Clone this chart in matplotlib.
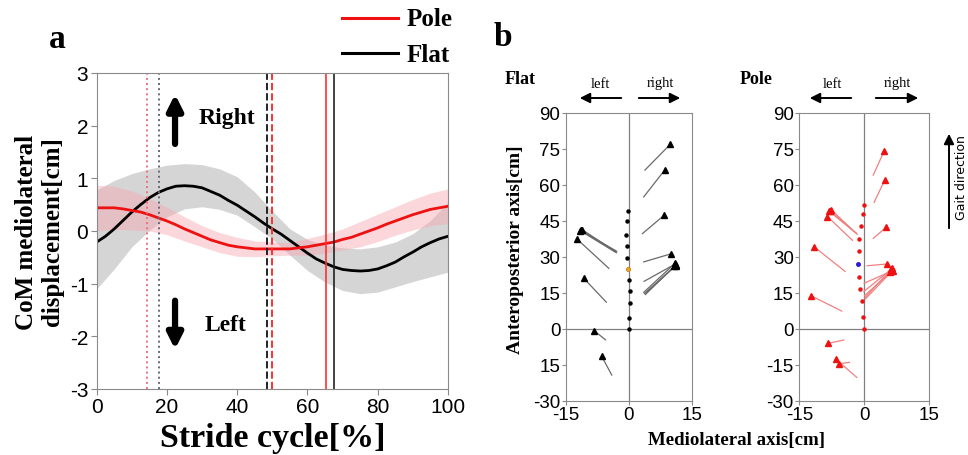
import numpy as np
import matplotlib
matplotlib.use('Agg')
import matplotlib.pyplot as plt

plt.rcParams['axes.unicode_minus'] = False

# ---- panel a: CoM mediolateral displacement over the stride cycle
stride = np.arange(0, 100.1, 2.5)
flat_mean = [-0.21, -0.1, 0.04, 0.2, 0.36, 0.5, 0.63, 0.73, 0.8, 0.85, 0.86,
             0.85, 0.82, 0.75, 0.68, 0.58, 0.49, 0.38, 0.27, 0.15, 0.04,
             -0.06, -0.18, -0.3, -0.42, -0.53, -0.61, -0.68, -0.73, -0.75, -0.76,
             -0.75, -0.72, -0.66, -0.59, -0.49, -0.4, -0.3, -0.22, -0.15, -0.1]
pole_mean = [0.44, 0.44, 0.44, 0.42, 0.39, 0.36, 0.31, 0.25, 0.19, 0.12, 0.04,
             -0.03, -0.1, -0.17, -0.22, -0.27, -0.3, -0.32, -0.34, -0.34, -0.34,
             -0.34, -0.34, -0.32, -0.3, -0.27, -0.24, -0.21, -0.16, -0.12, -0.06,
             0.0, 0.06, 0.13, 0.19, 0.25, 0.31, 0.36, 0.41, 0.44, 0.47]

band_x = np.arange(0, 101, 5)
flat_upper = [0.78, 0.96, 1.09, 1.18, 1.25, 1.28, 1.26, 1.18, 1.03, 0.74, 0.38,
              0.04, -0.16, -0.27, -0.32, -0.34, -0.3, -0.21, -0.05, 0.2, 0.55]
flat_lower = [-1.1, -0.72, -0.3, 0.01, 0.27, 0.42, 0.46, 0.41, 0.3, 0.08, -0.15,
              -0.46, -0.75, -0.97, -1.13, -1.19, -1.16, -1.06, -0.96, -0.87, -0.78]
pole_sd = [0.43, 0.41, 0.37, 0.31, 0.26, 0.23, 0.2, 0.19, 0.18, 0.15, 0.13,
           0.12, 0.16, 0.18, 0.2, 0.24, 0.26, 0.27, 0.29, 0.31, 0.33]

pole_events = [14.2, 49.9, 65.4]
flat_events = [17.8, 48.4, 67.6]

# ---- panel b: CoM path (dots) and foot placements (triangles)
flat_com_x = [0, 0.1, 0.25, 0.2, 0, -0.2, -0.4, -0.55, -0.6, -0.45, -0.25]
flat_com_y = [0, 4.6, 10.6, 15.6, 20.5, 25.1, 29.7, 34.4, 39.3, 44.8, 49.3]
flat_start_x = [3.8, 3.5, 3.2, 3.5, 3.6, 3.5, 3.7, 3.9, 4.0,
                -3.2, -3.0, -3.4, -2.9, -4.8, -5.4, -5.6, -4.1]
flat_start_y = [66.2, 55.0, 39.7, 27.9, 19.8, 15.2, 14.7, 14.3, 15.0,
                32.1, 31.7, 32.4, 32.3, 25.2, 11.1, -4.6, -19.3]
flat_foot_x = [9.8, 8.5, 8.4, 9.9, 10.9, 11.0, 11.2, 10.8, 11.1,
               -11.4, -11.6, -11.2, -11.5, -12.3, -10.8, -8.3, -6.5]
flat_foot_y = [76.9, 66.2, 47.4, 31.2, 26.9, 27.4, 26.6, 26.0, 26.2,
               41.2, 40.9, 41.4, 41.0, 37.3, 21.1, -0.8, -11.5]

pole_com_x = [0, -0.24, -0.56, -0.96, -1.3, -1.35, -1.3, -1.1, -0.7, -0.3, 0]
pole_com_y = [0, 4.9, 11.4, 16.7, 21.7, 27.0, 32.3, 37.6, 42.8, 47.8, 51.8]
pole_start_x = [2.1, 2.3, 2.1, 0.7, 0.0, -0.1, 0.1, 0.2, 0.3,
                -1.8, -1.6, -2.0, -2.7, -4.4, -5.2, -4.7, -3.4, -1.7]
pole_start_y = [64.1, 52.7, 37.7, 26.3, 19.0, 15.5, 13.8, 13.0, 12.5,
                39.8, 39.4, 40.1, 36.9, 23.9, 7.4, -4.7, -14.0, -20.3]
pole_foot_x = [4.6, 4.8, 5.1, 5.2, 6.3, 6.5, 6.0, 6.2, 6.6,
               -7.9, -7.6, -8.1, -8.5, -11.5, -12.3, -8.4, -5.8, -6.5]
pole_foot_y = [74.0, 62.2, 42.3, 27.0, 24.0, 25.2, 23.5, 24.8, 24.3,
               49.3, 49.6, 49.0, 46.8, 34.1, 13.8, -6.1, -14.6, -12.7]

yticks_b = [90, 75, 60, 45, 30, 15, 0, -15, -30]
flat_ytick_labels = ['90', '75', '60', '45', '30', '15', '0', '15', '-30']
pole_ytick_labels = ['90', '75', '60', '45', '30', '15', '0', '-15', '-30']

W, H = 968, 456
SERIF = 'Liberation Serif'
SANS = 'Liberation Sans'
spine_col = '#8a8a8a'

fig = plt.figure(figsize=(W / 100, H / 100), dpi=100)


def box(l, t, r, b):
    return [l / W, 1 - b / H, (r - l) / W, (b - t) / H]


def ftext(x, y, s, **kw):
    fig.text(x / W, 1 - y / H, s, **kw)


# ------------------------------------------------------------ panel a
ax = fig.add_axes(box(96.7, 74, 448, 390))
ax.fill_between(band_x, flat_lower, flat_upper, color='#c4c4c4', alpha=0.7, lw=0)
pm = np.array(pole_mean)[::2]
ps = np.array(pole_sd)
ax.fill_between(band_x, pm - ps, pm + ps, color='#f7a8b0', alpha=0.45, lw=0)
ax.plot(stride, flat_mean, color='black', lw=2)
ax.plot(stride, pole_mean, color='#ee1111', lw=2)

styles = [':', '--', '-']
for ev, ls in zip(pole_events, styles):
    ax.axvline(ev, color='#ff3030' if ls != ':' else '#f07080', ls=ls, lw=1.4 if ls != '-' else 1.2)
for ev, ls in zip(flat_events, styles):
    ax.axvline(ev, color='#222222' if ls != ':' else '#666677', ls=ls, lw=1.4 if ls != '-' else 1.2)

ax.set_xlim(0, 100)
ax.set_ylim(-3, 3)
ax.set_xticks(range(0, 101, 20))
ax.set_yticks(range(-3, 4))
for sp in ax.spines.values():
    sp.set_color(spine_col)
ax.tick_params(colors=spine_col, length=4, labelcolor='black', labelsize=15, pad=2)
for lab in ax.get_xticklabels() + ax.get_yticklabels():
    lab.set_family(SANS)

ax.annotate('', xy=(22.3, 2.65), xytext=(22.3, 1.6),
            arrowprops=dict(arrowstyle='-|>,head_width=0.45,head_length=0.9', lw=4.5, color='black'))
ax.annotate('', xy=(22.3, -2.3), xytext=(22.3, -1.27),
            arrowprops=dict(arrowstyle='-|>,head_width=0.45,head_length=0.9', lw=4.5, color='black'))
ax.text(37.1, 2.16, 'Right', family=SERIF, weight='bold', fontsize=17, ha='center', va='center')
ax.text(36.8, -1.77, 'Left', family=SERIF, weight='bold', fontsize=17, ha='center', va='center')

ax.set_xlabel('Stride cycle[%]', family=SERIF, weight='bold', fontsize=24.5, labelpad=4)
ax.set_ylabel('CoM mediolateral\ndisplacement[cm]', family=SERIF, weight='bold',
              fontsize=18, linespacing=1.2, labelpad=4)

ftext(57, 40, 'a', family=SERIF, weight='bold', fontsize=24, ha='center', va='center')
fig.add_artist(plt.Line2D([342 / W, 398 / W], [1 - 19 / H, 1 - 19 / H], color='#ee1111', lw=2.2))
fig.add_artist(plt.Line2D([342 / W, 398 / W], [1 - 54 / H, 1 - 54 / H], color='black', lw=2.2))
ftext(407, 20, 'Pole', family=SERIF, weight='bold', fontsize=18, ha='left', va='center')
ftext(407, 55, 'Flat', family=SERIF, weight='bold', fontsize=18, ha='left', va='center')

# ------------------------------------------------------------ panel b
ftext(503, 38, 'b', family=SERIF, weight='bold', fontsize=24, ha='center', va='center')


def step_panel(rect, com_x, com_y, sx, sy, fx, fy, line_col, mark_col, dot_col,
               special, special_col, ylabels):
    a = fig.add_axes(rect)
    for x0, y0, x1, y1 in zip(sx, sy, fx, fy):
        a.plot([x0, x1], [y0, y1], color=line_col, lw=0.9, zorder=2)
    a.plot(fx, fy, '^', color=mark_col, ms=4.5, zorder=3, ls='none')
    a.plot(com_x, com_y, 'o', color=dot_col, ms=2.2, ls='none', zorder=3)
    a.plot([com_x[special]], [com_y[special]], 'o', color=special_col, ms=2.4, zorder=4)
    a.axvline(0, color='#808080', lw=0.9, zorder=1)
    a.axhline(0, color='#808080', lw=0.9, zorder=1)
    a.set_xlim(-15, 15)
    a.set_ylim(-30, 90)
    a.set_xticks([-15, 0, 15])
    a.set_yticks(yticks_b)
    a.set_yticklabels(ylabels)
    for sp in a.spines.values():
        sp.set_color(spine_col)
    a.tick_params(colors=spine_col, length=3, labelcolor='black', labelsize=13.5, pad=1)
    for lab in a.get_xticklabels() + a.get_yticklabels():
        lab.set_family(SANS)
    return a


step_panel(box(566, 114, 692, 401.7), flat_com_x, flat_com_y, flat_start_x, flat_start_y,
           flat_foot_x, flat_foot_y, '#6a6a6a', 'black', 'black', 5, '#f0a020',
           flat_ytick_labels)
step_panel(box(799.3, 114, 929, 401.7), pole_com_x, pole_com_y, pole_start_x, pole_start_y,
           pole_foot_x, pole_foot_y, '#f08080', '#ee1111', '#ee1111', 5, '#2020ee',
           pole_ytick_labels)

# headings and left/right arrows above the panels
for title, tx, lx, rx, la, ra in [('Flat', 520, 600, 660, (624, 577), (636, 683)),
                                   ('Pole', 756, 832, 897, (854, 807), (873, 921))]:
    ftext(tx, 79, title, family=SERIF, weight='bold', fontsize=13, ha='center', va='center')
    ftext(lx, 84, 'left', family=SERIF, fontsize=10.5, ha='center', va='center')
    ftext(rx, 84, 'right', family=SERIF, fontsize=10.5, ha='center', va='center')
    for x0, x1 in (la, ra):
        fig.add_artist(matplotlib.patches.FancyArrowPatch(
            (x0 / W, 1 - 99 / H), (x1 / W, 1 - 99 / H), transform=fig.transFigure,
            arrowstyle='-|>,head_width=3,head_length=6', lw=1.4, color='black'))

ftext(515, 250, 'Anteroposterior axis[cm]', family=SERIF, weight='bold', fontsize=14,
      rotation=90, ha='center', va='center')
ftext(736, 441, 'Mediolateral axis[cm]', family=SERIF, weight='bold', fontsize=13.6,
      ha='center', va='center')

fig.add_artist(matplotlib.patches.FancyArrowPatch(
    (949 / W, 1 - 232 / H), (949 / W, 1 - 132 / H), transform=fig.transFigure,
    arrowstyle='-|>,head_width=3,head_length=6', lw=1.4, color='black'))
ftext(955, 178, 'Gait direction', family='DejaVu Sans', fontsize=9, rotation=90,
      ha='left', va='center')

fig.savefig('out.png', dpi=100)
